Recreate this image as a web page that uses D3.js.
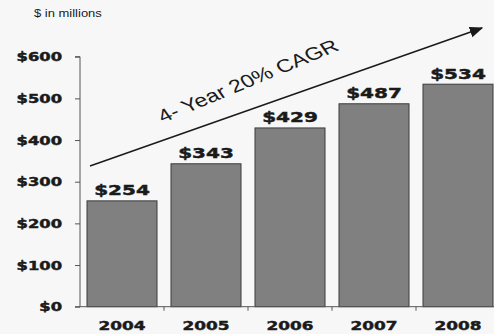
<!DOCTYPE html>
<html>
<head>
<meta charset="utf-8">
<script src="https://cdn.jsdelivr.net/npm/d3@7"></script>
<style>
  html, body { margin: 0; padding: 0; background: #f7f7f7; }
  svg { display: block; }
  text { font-family: "DejaVu Sans", "Liberation Sans", sans-serif; fill: #1a1a1a; }
  text.plain { font-family: "Liberation Sans", Arial, sans-serif; }
</style>
</head>
<body>
<svg id="chart" width="494" height="334"></svg>
<script>
// Revenue by year, $ in millions
const years = ["2004", "2005", "2006", "2007", "2008"];
const revenue = [254, 343, 429, 487, 534];
const yTicks = [0, 100, 200, 300, 400, 500, 600];
const unitLabel = "$ in millions";
const growthLabel = "4- Year 20% CAGR";

const W = 494, H = 334;
const svg = d3.select("#chart");

const x = d3.scaleBand().domain(years).range([80, 500])
  .paddingInner(1 / 6).paddingOuter(1 / 12);
const y = d3.scaleLinear().domain([0, 600]).range([306.7, 56.7]);

// Wide, heavy text helper
function wideText(g, tx, ty, str, size, weight, anchor, stretch, rot) {
  const t = g.append("text")
    .attr("transform", `translate(${tx},${ty}) scale(${stretch},1)` + (rot ? ` rotate(${rot})` : ""))
    .attr("text-anchor", anchor)
    .attr("font-size", size)
    .attr("font-weight", weight)
    .text(str);
  if (weight === "bold") t.attr("stroke", "#1a1a1a").attr("stroke-width", 0.45);
  else t.attr("class", "plain");
  return t;
}

// Bars
svg.append("g").selectAll("rect")
  .data(revenue)
  .join("rect")
  .attr("x", (d, i) => x(years[i]))
  .attr("y", d => y(d))
  .attr("width", x.bandwidth())
  .attr("height", d => y(0) - y(d))
  .attr("fill", "#808080")
  .attr("stroke", "#3a3a3a")
  .attr("stroke-width", 1);

// Value labels
const labels = svg.append("g");
revenue.forEach((d, i) => {
  wideText(labels, x(years[i]) + x.bandwidth() / 2, y(d) - 5.5, "$" + d, 14.5, "bold", "middle", 1.38);
});

// Y axis
const yAxis = svg.append("g").attr("transform", "translate(80,0)")
  .call(d3.axisLeft(y).tickValues(yTicks).tickSize(5).tickFormat(""));
yAxis.select(".domain").attr("stroke", "#555").attr("d", `M-5,${y(600)}H0V${y(0)}`);
yAxis.selectAll(".tick line").attr("stroke", "#555");
const yl = svg.append("g");
yTicks.forEach(t => {
  wideText(yl, 62, y(t) + 4.5, "$" + t, 11.5, "bold", "end", 1.42);
});

// X axis with ticks at category boundaries
const xAxis = svg.append("g").attr("transform", `translate(0,${y(0)})`);
xAxis.append("line").attr("x1", 75).attr("x2", W).attr("y1", 0).attr("y2", 0).attr("stroke", "#555");
xAxis.selectAll(".sep").data(years.slice(1)).join("line")
  .attr("class", "sep")
  .attr("x1", d => x(d) - x.step() * x.paddingInner() / 2)
  .attr("x2", d => x(d) - x.step() * x.paddingInner() / 2)
  .attr("y1", 0).attr("y2", 4).attr("stroke", "#555");
const xl = svg.append("g");
years.forEach(yr => {
  wideText(xl, x(yr) + x.bandwidth() / 2, 330, yr, 12.5, "bold", "middle", 1.35);
});

// Unit note
wideText(svg.append("g"), 34, 17, unitLabel, 10, "normal", "start", 1.3);

// Growth arrow
svg.append("defs").append("marker")
  .attr("id", "head").attr("viewBox", "0 0 10 10").attr("refX", 9).attr("refY", 5)
  .attr("markerWidth", 9).attr("markerHeight", 9).attr("orient", "auto")
  .append("path").attr("d", "M0,1L10,5L0,9Z").attr("fill", "#1a1a1a");
svg.append("line")
  .attr("x1", 90).attr("y1", 166).attr("x2", 482).attr("y2", 28)
  .attr("stroke", "#1a1a1a").attr("stroke-width", 1.5)
  .attr("marker-end", "url(#head)");
wideText(svg.append("g"), 163, 123, growthLabel, 18, "normal", "start", 1.3, -28.3);
</script>
</body>
</html>
